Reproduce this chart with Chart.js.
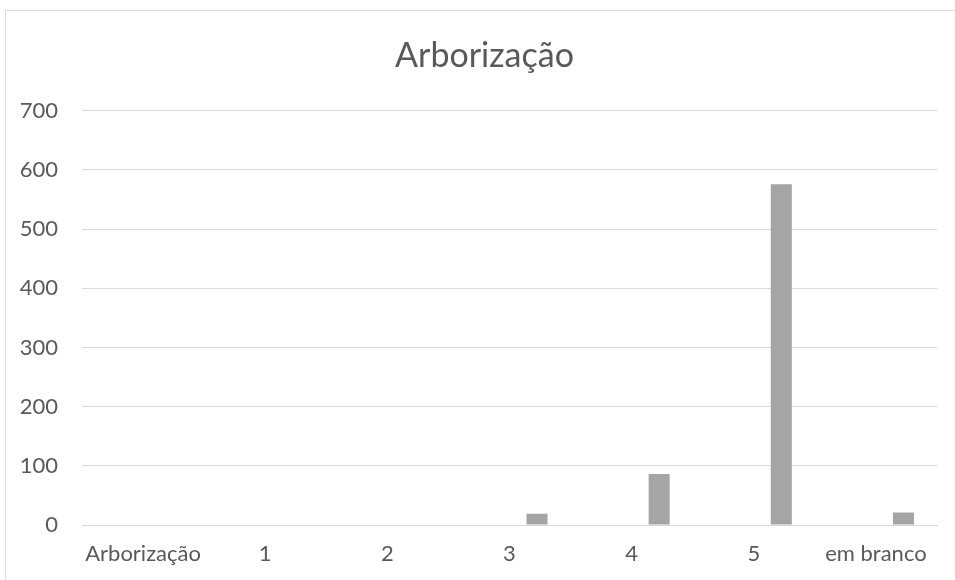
<!DOCTYPE html>
<html>
<head>
<meta charset="utf-8">
<script src="https://cdn.jsdelivr.net/npm/chart.js@4.4.1/dist/chart.umd.min.js"></script>
<style>
  html, body { margin: 0; padding: 0; background: #ffffff; overflow: hidden; }
  #wrap { position: relative; width: 955px; height: 580px; overflow: hidden; }
  #frame { position: absolute; left: 5px; top: 10px; width: 1200px; height: 900px; border: 1px solid #d9d9d9; }
  #chart { position: absolute; left: 0; top: 0; }
</style>
</head>
<body>
<div id="wrap">
  <div id="frame"></div>
  <!-- canvas runs past the window on the right, like the cropped sheet frame -->
  <canvas id="chart" width="969" height="580"></canvas>
</div>
<script>
const chartTitle = "Arborização";
const categories = ["Arborização", "1", "2", "3", "4", "5", "em branco"];
// the first two series are empty in the source sheet, they only reserve slots
const emptySeriesA = [null, null, null, null, null, null, null];
const emptySeriesB = [null, null, null, null, null, null, null];
const counts = [null, null, null, 19, 86, 576, 21];
const yMax = 700;
const yStep = 100;

const textColor = "#595959";
const gridColor = "#d9d9d9";
const barColor = "#a5a5a5";
const fontFamily = "Lato, 'Liberation Sans', sans-serif";

const makeSeries = (label, data) => ({
  label,
  data,
  backgroundColor: barColor,
  borderWidth: 0,
  categoryPercentage: 0.676,
  barPercentage: 0.764
});

new Chart(document.getElementById("chart"), {
  type: "bar",
  data: {
    labels: categories,
    datasets: [
      makeSeries("", emptySeriesA),
      makeSeries("", emptySeriesB),
      makeSeries("Total", counts)
    ]
  },
  options: {
    responsive: false,
    animation: false,
    layout: { padding: { top: 10, right: 0, bottom: 0, left: 0 } },
    plugins: {
      legend: { display: false },
      tooltip: { enabled: false },
      title: {
        display: true,
        text: chartTitle,
        color: textColor,
        font: { family: fontFamily, size: 34, weight: "normal" },
        padding: { top: 26, bottom: 34 }
      }
    },
    scales: {
      x: {
        grid: { display: false, drawTicks: false },
        border: { display: true, color: gridColor, width: 1 },
        ticks: {
          color: textColor,
          padding: 16,
          maxRotation: 0,
          autoSkip: false,
          font: { family: fontFamily, size: 22 }
        },
        afterFit: (scale) => { scale.height = 55; }
      },
      y: {
        min: 0,
        max: yMax,
        grid: { color: gridColor, lineWidth: 1, drawTicks: false },
        border: { display: false },
        ticks: {
          stepSize: yStep,
          color: textColor,
          padding: 24,
          font: { family: fontFamily, size: 22 }
        },
        afterFit: (scale) => { scale.width = 82; }
      },
      // blank right-hand gutter so the plot ends at the same spot as the sheet
      gutter: {
        type: "linear",
        position: "right",
        min: 0,
        max: 1,
        grid: { display: false, drawTicks: false },
        border: { display: false },
        ticks: { display: false },
        afterFit: (scale) => { scale.width = 32; }
      }
    }
  }
});
</script>
</body>
</html>
